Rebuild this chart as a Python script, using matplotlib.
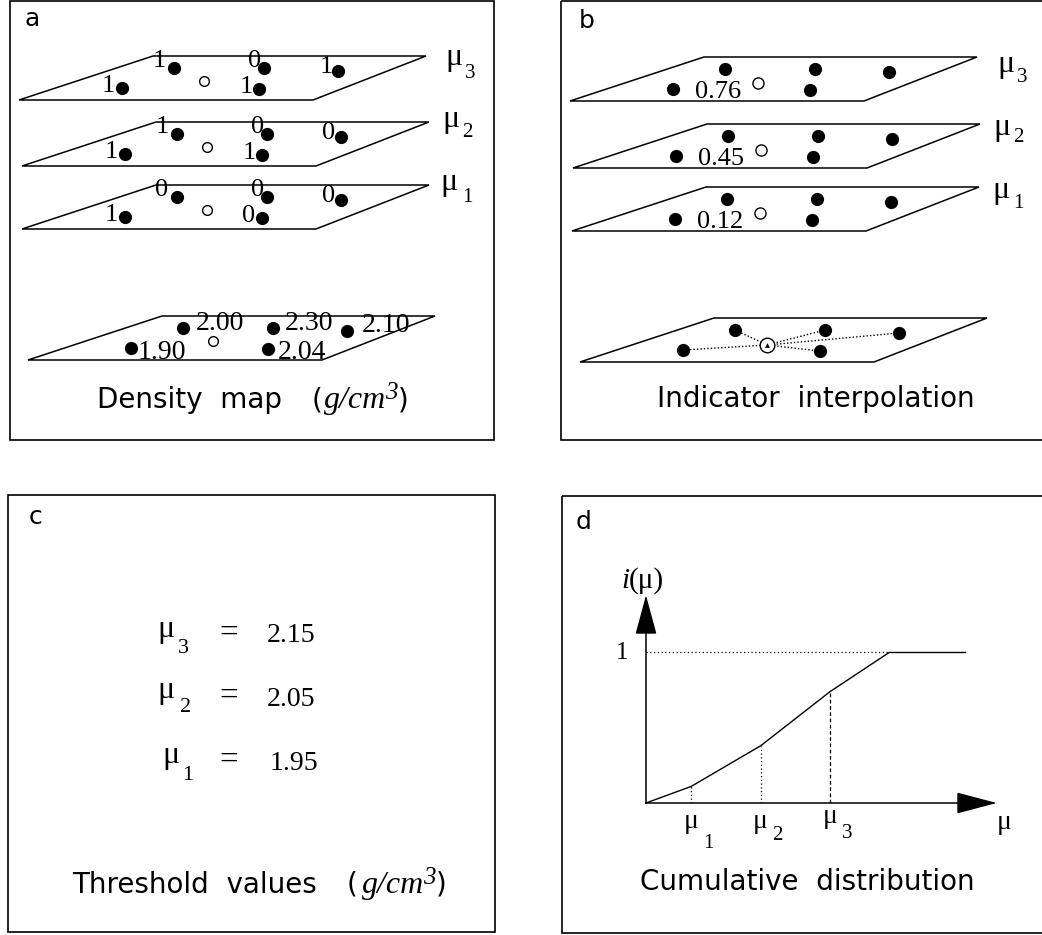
import matplotlib
matplotlib.use("Agg")
import matplotlib.pyplot as plt
from matplotlib.patches import Polygon, Rectangle
from matplotlib.transforms import blended_transform_factory, offset_copy

W, H = 1042, 935
SERIF = "Liberation Serif"
SANS = "DejaVu Sans"

# ---------------- data ----------------
density = [1.90, 2.00, 2.30, 2.04, 2.10]      # g/cm3 at the five samples
thresholds = [1.95, 2.05, 2.15]                # mu_1, mu_2, mu_3
threshold_ids = ["1", "2", "3"]
estimates = [0.12, 0.45, 0.76]                 # interpolated indicator at the target
cdf_mu = [1.885, 1.95, 2.05, 2.15, 2.235, 2.345]
cdf_i = [0.0, 0.11, 0.38, 0.74, 1.0, 1.0]

# indicator transform: i(x; mu) = 1 if z(x) <= mu else 0
indicators = [[1 if z <= t else 0 for z in density] for t in thresholds]

# ---------------- layout (pixels) ----------------
PLANE_SHAPE = [(0, 0), (294, 0), (407, -44), (134, -44)]
SAMPLE_OFFSETS = [(103, -12), (155, -32), (245, -32), (240, -11), (319, -29)]
TARGET_A = (185, -19)
TARGET_B = (188, -18)
IND_LABEL_OFF = [(-14, 4), (-15, -1), (-9, -1), (-13, 4), (-12, 2)]
DENS_LABEL_OFF = [(7, 11), (13, 2), (12, 2), (10, 10), (15, 1)]
EST_LABEL_OFF = (125, -3)

A_ANCHORS = [(22, 229), (22, 166), (19, 100)]          # mu1, mu2, mu3
A_DENS_ANCHOR = (28, 360)
A_MU_POS = [(440, 190), (442, 127), (445, 65)]
A_SUB_POS = [(462, 202), (462, 137), (465, 78)]

B_ANCHORS = [(572, 231), (573, 168), (570, 101)]
B_BASE_ANCHOR = (580, 362)
B_MU_POS = [(992, 198), (993, 135), (997, 72)]
B_SUB_POS = [(1013, 208), (1013, 142), (1017, 82)]

C_MU_POS = [(162, 763), (157, 698), (157, 637)]
C_SUB_POS = [(182, 780), (180, 712), (178, 653)]
C_EQ_POS = [(229, 769), (229, 705), (229, 642)]
C_VAL_POS = [(270, 770), (267, 706), (267, 642)]

D_ORIGIN = (646, 803)
D_SIZE = (348, 205)
D_XLIM = (1.885, 2.386)
D_YLIM = (0.0, 1.362)
D_MU_BASE = [828, 828, 823]
D_SUB_BASE = [848, 840, 838]
D_DROP_STYLE = [(0, (1, 2)), (0, (1, 2)), (0, (3, 2))]

MU_SIZE = 23
SUB_SIZE = 15
CAP_SIZE = 20

fig = plt.figure(figsize=(W / 100, H / 100), dpi=100)
ax = fig.add_axes([0, 0, 1, 1])
ax.set_xlim(0, W)
ax.set_ylim(H, 0)
ax.axis("off")


def txt(x, y, s, size, family=SERIF, style="normal", ha="left", va="baseline", **kw):
    return ax.text(x, y, s, fontsize=size, family=family, style=style,
                   ha=ha, va=va, color="k", **kw)


def plane(x0, y0):
    pts = [(x0 + dx, y0 + dy) for dx, dy in PLANE_SHAPE]
    ax.add_patch(Polygon(pts, closed=True, fill=False, ec="k", lw=1.1,
                         joinstyle="miter"))


def samples(x0, y0):
    xs = [x0 + dx for dx, _ in SAMPLE_OFFSETS]
    ys = [y0 + dy for _, dy in SAMPLE_OFFSETS]
    ax.plot(xs, ys, "o", ms=9.5, color="k", mew=0, zorder=3)
    return xs, ys


def unit_caption(x, y, size, gap):
    """'(g/cm3)' built from pieces, starting at x on baseline y."""
    renderer = fig.canvas.get_renderer()
    inv = ax.transData.inverted()
    t = txt(x, y, "(", size, family=SANS)
    x1 = inv.transform(t.get_window_extent(renderer))[1][0] + gap
    t = txt(x1, y, "g/cm", size + 3, style="italic")
    x2 = inv.transform(t.get_window_extent(renderer))[1][0] - 1
    t = txt(x2, y - 9, "3", size - 2, style="italic")
    x3 = inv.transform(t.get_window_extent(renderer))[1][0]
    txt(x3, y, ")", size, family=SANS)


# ---------------- panel frames ----------------
for (x0, y0, x1, y1) in [(10, 1, 494, 440), (561, 1, 1050, 440),
                         (8, 495, 495, 932), (562, 496, 1050, 933)]:
    ax.add_patch(Rectangle((x0, y0), x1 - x0, y1 - y0, fill=False, ec="k", lw=1.2))

txt(24, 26, "a", 18, family=SANS)
txt(579, 28, "b", 18, family=SANS)
txt(29, 524, "c", 18, family=SANS)
txt(576, 529, "d", 18, family=SANS)

# ---------------- panel a: indicator coding of the density map ----------------
for k, (x0, y0) in enumerate(A_ANCHORS):
    plane(x0, y0)
    xs, ys = samples(x0, y0)
    for j, (ox, oy) in enumerate(IND_LABEL_OFF):
        txt(xs[j] + ox, ys[j] + oy, str(indicators[k][j]), 19, ha="center")
    ax.plot(x0 + TARGET_A[0], y0 + TARGET_A[1], "o", ms=7, mfc="white",
            mec="k", mew=1.0, zorder=3)
    txt(*A_MU_POS[k], "\u03bc", MU_SIZE)
    txt(*A_SUB_POS[k], threshold_ids[k], SUB_SIZE)

x0, y0 = A_DENS_ANCHOR
plane(x0, y0)
xs, ys = samples(x0, y0)
for j, (ox, oy) in enumerate(DENS_LABEL_OFF):
    txt(xs[j] + ox, ys[j] + oy, f"{density[j]:.2f}", 20)
ax.plot(x0 + TARGET_A[0], y0 + TARGET_A[1], "o", ms=7, mfc="white",
        mec="k", mew=1.0, zorder=3)

txt(97, 408, "Density  map", CAP_SIZE, family=SANS)
unit_caption(312, 408, CAP_SIZE, 1)

# ---------------- panel b: indicator interpolation ----------------
for k, (x0, y0) in enumerate(B_ANCHORS):
    plane(x0, y0)
    samples(x0, y0)
    txt(x0 + EST_LABEL_OFF[0], y0 + EST_LABEL_OFF[1], f"{estimates[k]:.2f}", 19)
    ax.plot(x0 + TARGET_B[0], y0 + TARGET_B[1], "o", ms=8, mfc="white",
            mec="k", mew=1.0, zorder=3)
    txt(*B_MU_POS[k], "\u03bc", MU_SIZE)
    txt(*B_SUB_POS[k], threshold_ids[k], SUB_SIZE)

x0, y0 = B_BASE_ANCHOR
plane(x0, y0)
xs, ys = samples(x0, y0)
tx, ty = x0 + TARGET_B[0] - 1, y0 + TARGET_B[1] + 1
for xi, yi in zip(xs, ys):
    ax.plot([xi, tx], [yi, ty], color="k", lw=1.0, ls=(0, (1, 1.5)), zorder=2)
ax.plot(tx, ty, "o", ms=10.5, mfc="white", mec="k", mew=1.0, zorder=4)
ax.plot(tx, ty, "^", ms=3.5, color="k", mew=0, zorder=5)

txt(657, 407, "Indicator  interpolation", CAP_SIZE, family=SANS)

# ---------------- panel c: threshold values ----------------
for k in range(len(thresholds)):
    txt(*C_MU_POS[k], "\u03bc", MU_SIZE)
    txt(*C_SUB_POS[k], threshold_ids[k], SUB_SIZE + 1)
    txt(*C_EQ_POS[k], "=", 24, ha="center")
    txt(*C_VAL_POS[k], f"{thresholds[k]:.2f}", 20)

txt(72, 893, "Threshold  values", CAP_SIZE, family=SANS)
unit_caption(347, 893, CAP_SIZE, 4)

# ---------------- panel d: cumulative distribution ----------------
axd = fig.add_axes([D_ORIGIN[0] / W, (H - D_ORIGIN[1]) / H, D_SIZE[0] / W, D_SIZE[1] / H])
axd.set_xlim(*D_XLIM)
axd.set_ylim(*D_YLIM)
axd.axis("off")

aw, ah = D_SIZE
axd.plot([0, 1], [0, 0], color="k", lw=1.1, transform=axd.transAxes, clip_on=False)
axd.plot([0, 0], [0, 1], color="k", lw=1.1, transform=axd.transAxes, clip_on=False)
axd.add_patch(Polygon([(-9.5 / aw, 1 - 35 / ah), (9.5 / aw, 1 - 35 / ah), (0, 1)],
                      closed=True, color="k", transform=axd.transAxes, clip_on=False))
axd.add_patch(Polygon([(1 - 36 / aw, -9.5 / ah), (1 - 36 / aw, 9.5 / ah), (1, 0)],
                      closed=True, color="k", transform=axd.transAxes, clip_on=False))

axd.plot(cdf_mu, cdf_i, color="k", lw=1.0, clip_on=False)
axd.plot([cdf_mu[0], cdf_mu[4]], [1, 1], color="k", lw=0.9, ls=(0, (1, 2)))
for k, t in enumerate(thresholds):
    axd.plot([t, t], [0, cdf_i[k + 1]], color="k", lw=0.9, ls=D_DROP_STYLE[k])

tick_tr = blended_transform_factory(axd.transData, ax.transData)
sub_tr = offset_copy(tick_tr, fig=fig, x=12, y=0, units="dots")
for k, t in enumerate(thresholds):
    ax.text(t, D_MU_BASE[k], "\u03bc", fontsize=20, family=SERIF, ha="center",
            va="baseline", transform=tick_tr)
    ax.text(t, D_SUB_BASE[k], threshold_ids[k], fontsize=SUB_SIZE, family=SERIF,
            ha="left", va="baseline", transform=sub_tr)

one_tr = offset_copy(blended_transform_factory(ax.transData, axd.transData),
                     fig=fig, x=0, y=-7, units="dots")
ax.text(616, 1.0, "1", fontsize=18, family=SERIF, ha="left", va="baseline",
        transform=one_tr)
txt(621, 588, "i", 21, style="italic")
txt(629, 588, "(\u03bc)", 21)
txt(997, 829, "\u03bc", 20)

txt(640, 890, "Cumulative  distribution", CAP_SIZE, family=SANS)

fig.savefig("out.png", dpi=100)
